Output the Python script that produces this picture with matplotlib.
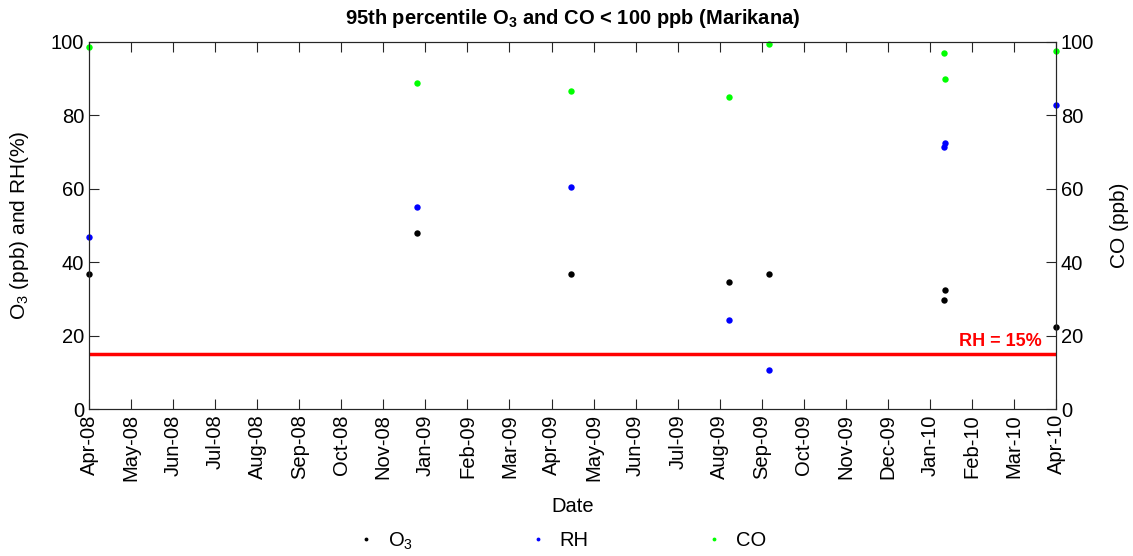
import matplotlib
matplotlib.use('Agg')
import numpy as np
import matplotlib.pyplot as plt
import matplotlib.dates as mdates
from datetime import datetime

plt.rcParams['font.family'] = 'Liberation Sans'
plt.rcParams['mathtext.default'] = 'regular'
fontsize = 14.5

# sampling dates of the 95th percentile values
dates = [datetime(2008, 4, 19), datetime(2008, 12, 26), datetime(2009, 4, 23),
         datetime(2009, 8, 22), datetime(2009, 9, 21), datetime(2010, 2, 2),
         datetime(2010, 2, 3), datetime(2010, 4, 29)]
o3 = [36.7, 48.1, 36.7, 34.7, 36.7, 29.8, 32.5, 22.3]
rh = [46.9, 55.1, 60.6, 24.3, 10.6, 71.3, 72.6, 82.7]
co = [98.6, 88.9, 86.7, 84.9, 99.4, 96.9, 89.9, 97.4]
rh_limit = 15

x = mdates.date2num(dates)

fig = plt.figure(figsize=(11.33, 5.56), dpi=100)
ax1 = fig.add_axes([0.0786, 0.2638, 0.8535, 0.661])
ax2 = ax1.twinx()

h1, = ax1.plot(x, o3, linestyle='none', marker='o', markersize=4.6, mec='none', color='k', label='O$_3$')
h2, = ax1.plot(x, rh, linestyle='none', marker='o', markersize=4.6, mec='none', color='b', label='RH')
h3, = ax2.plot(x, co, linestyle='none', marker='o', markersize=4.6, mec='none', color='#00ff00', label='CO')
for h in (h1, h2, h3):
    h.set_clip_on(False)

ax1.axhline(rh_limit, color='r', lw=2.5)
ax1.annotate('RH = 15%', xy=(1, rh_limit), xycoords=ax1.get_yaxis_transform(),
             xytext=(-10, 3), textcoords='offset points', ha='right', va='bottom',
             color='r', fontweight='bold', fontsize=13)

# 24 evenly spaced date ticks between first and last sample
ax1.set_xlim(x[0], x[-1])
ax1.set_xticks(np.linspace(x[0], x[-1], 24))
ax1.xaxis.set_major_formatter(mdates.DateFormatter('%b-%y'))
plt.setp(ax1.get_xticklabels(), rotation=90)

ax1.set_ylim(0, 100)
ax2.set_ylim(0, 100)
ax1.set_yticks(range(0, 101, 20))
ax2.set_yticks(range(0, 101, 20))

ax1.tick_params(direction='in', length=7, labelsize=fontsize, top=True, color='#262626')
ax2.tick_params(direction='in', length=7, labelsize=fontsize, color='#262626')
for ax in (ax1, ax2):
    for s in ax.spines.values():
        s.set_color('#262626')

ax1.set_xlabel('Date', fontsize=fontsize, labelpad=11)
ax1.set_ylabel('O$_3$ (ppb) and RH(%)', fontsize=15, labelpad=14)
ax2.set_ylabel('CO (ppb)', fontsize=15, labelpad=11)
ax1.set_title('95th percentile O$_3$ and CO < 100 ppb (Marikana)', fontsize=14.5,
              fontweight='bold', pad=13)

fig.legend([h1, h2, h3], ['O$_3$', 'RH', 'CO'], loc='center', bbox_to_anchor=(0.495, 1 - 541 / 556),
           ncol=3, frameon=False, fontsize=fontsize, markerscale=0.6,
           handlelength=1, handletextpad=0.6, columnspacing=5.7)

fig.savefig('out.png', dpi=100)
